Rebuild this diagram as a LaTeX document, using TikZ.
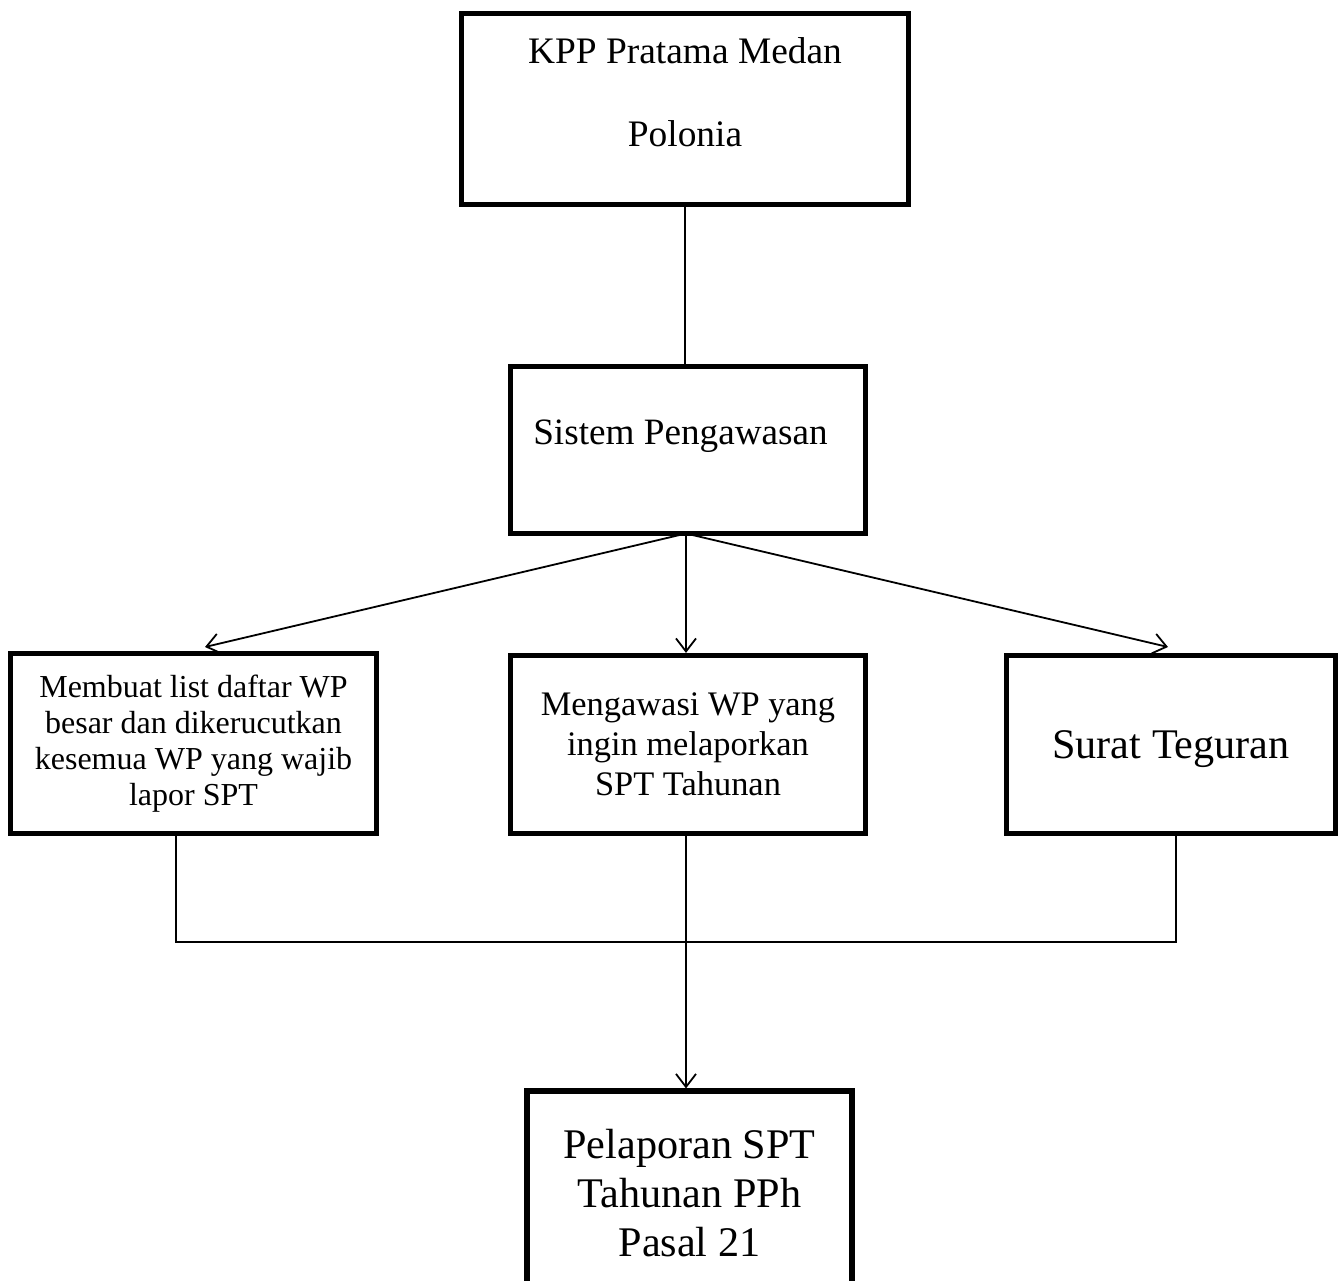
\documentclass[tikz,border=0pt]{standalone}
\usepackage{fontspec}
\setmainfont{Liberation Serif}
\usetikzlibrary{arrows.meta,positioning}

\tikzset{
  box/.style={draw, rectangle, line width=2.6pt, inner sep=0pt, align=center},
  conn/.style={line width=0.9pt},
  arr/.style={conn, -{Straight Barb[length=6.5pt,width=10pt]}},
  lbl/.style={align=center, inner sep=0pt}
}

\begin{document}
\begin{tikzpicture}[x=0.5pt, y=-0.5pt]
    \useasboundingbox (0,0) rectangle (1341,1281);

    % Top office
    \node[box, minimum width=223.5pt, minimum height=95.5pt] (kpp) at (685,109) {};
    \node[lbl, font=\fontsize{18.7}{41.5}\selectfont] (kpp-text) at (685,92) {KPP Pratama Medan\\Polonia};

    % Supervision system
    \node[box, minimum width=177.5pt, minimum height=83.5pt] (sistem) at (688,450) {};
    \node[lbl, font=\fontsize{18.6}{22}\selectfont] (sistem-text) at (680.5,436) {Sistem Pengawasan};
    \coordinate (hub) at (686,533.5);

    % Three activities
    \node[box, minimum width=183pt, minimum height=90pt, font=\fontsize{16}{17.9}\selectfont] (daftar) at (193.5,743.5)
        {\rule{0pt}{4pt}Membuat list daftar WP\\besar dan dikerucutkan\\kesemua WP yang wajib\\lapor SPT};
    \node[box, minimum width=177.5pt, minimum height=89pt, font=\fontsize{17.2}{20}\selectfont] (awasi) at (688,744.5)
        {\rule{0pt}{4pt}Mengawasi WP yang\\ingin melaporkan\\SPT Tahunan};
    \node[box, minimum width=164.5pt, minimum height=89pt, text depth=0pt, font=\fontsize{21.1}{24}\selectfont] (teguran) at (1171,744.5)
        {Surat Teguran};

    % Result
    \node[box, minimum width=162.5pt, minimum height=102pt, font=\fontsize{21.1}{24.5}\selectfont] (lapor) at (689.5,1193)
        {Pelaporan SPT\\Tahunan PPh\\Pasal 21};

    % Connectors
    \coordinate (tipL) at (205,647);
    \coordinate (tipR) at (1168,647);
    \coordinate (jL) at (176,942);
    \coordinate (jR) at (1176,942);

    \draw[conn] (kpp.south) -- (kpp.south |- sistem.north);
    \draw[arr] (hub) -- (tipL);
    \draw[arr] (hub) -- (hub |- awasi.north);
    \draw[arr] (hub) -- (tipR);

    \draw[conn] (daftar.south -| jL) -- (jL) -- (jR) -- (teguran.south -| jR);
    \draw[arr] (hub |- awasi.south) -- (hub |- lapor.north);
\end{tikzpicture}
\end{document}
